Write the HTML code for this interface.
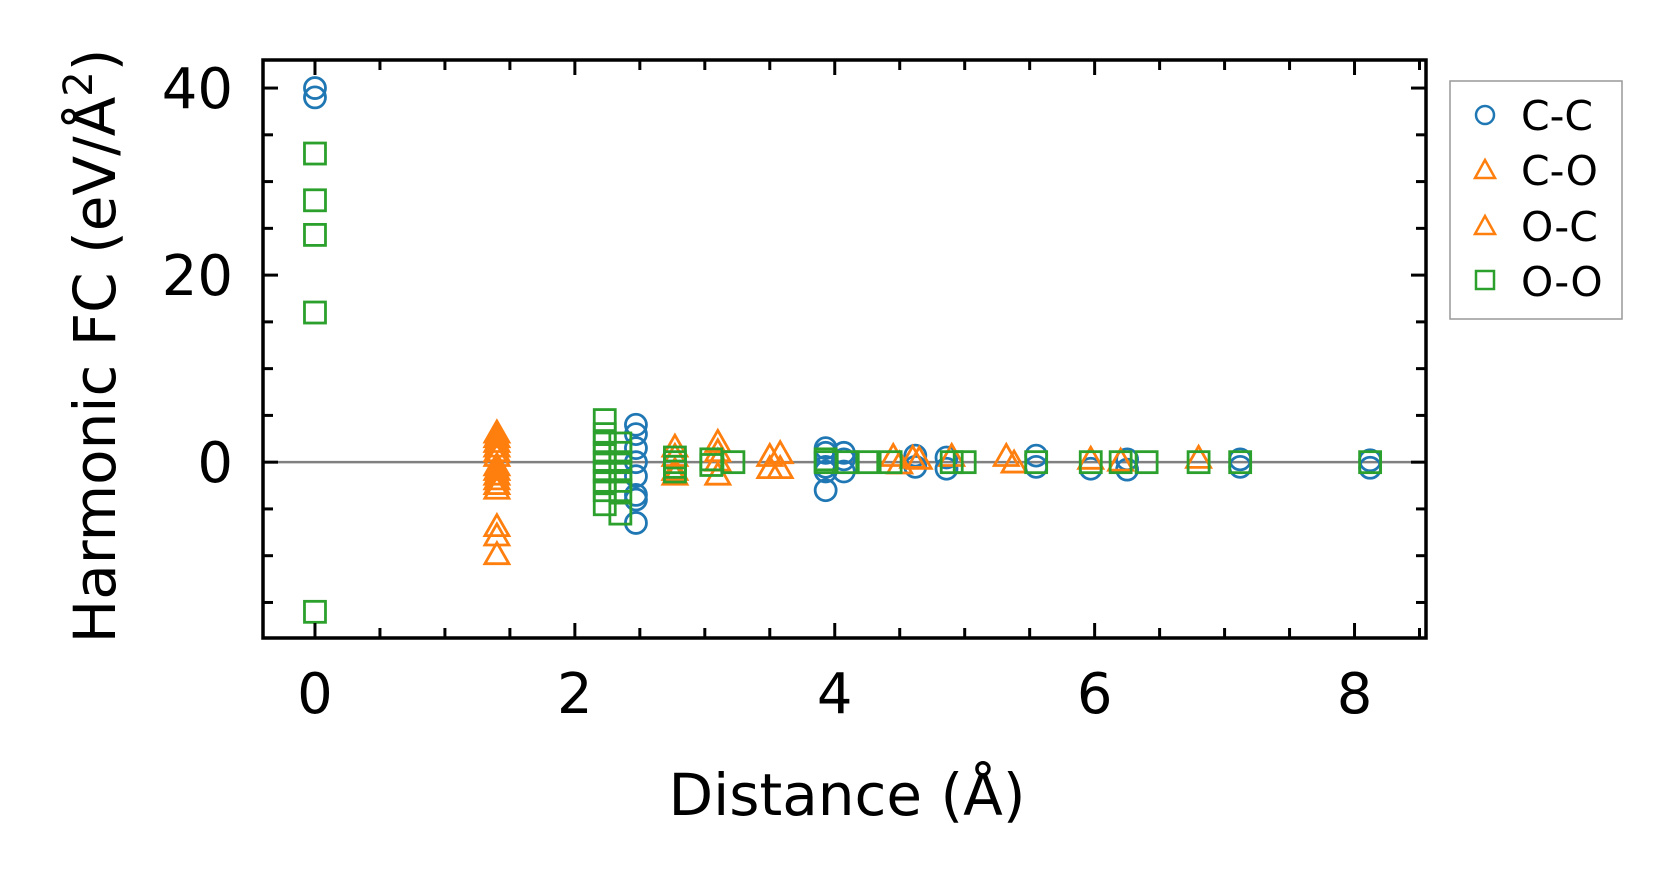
<!DOCTYPE html>
<html><head><meta charset="utf-8"><style>
html,body{margin:0;padding:0;background:#fff;}
svg{display:block;font-family:"DejaVu Sans","Liberation Sans",sans-serif;}
</style></head><body>
<svg id="chart" width="1680" height="883" viewBox="0 0 1680 883">
<g id="plot"></g>
<text x="847" y="815" font-size="58" text-anchor="middle">Distance (Å)</text>
<text transform="translate(115,346) rotate(-90)" font-size="58" text-anchor="middle">Harmonic FC (eV/Å<tspan dy="-23" font-size="40">2</tspan><tspan dy="23">)</tspan></text>
<g>
<rect x="1450" y="81" width="172" height="238" fill="#fff" stroke="#999" stroke-width="1.5"/>
<g><circle cx="1485" cy="115" r="9" fill="none" stroke="#1f77b4" stroke-width="2.5"/><text x="1521" y="130" font-size="41">C-C</text></g>
<g><polygon points="1485,160 1495,178 1475,178" fill="none" stroke="#ff7f0e" stroke-width="2.5"/><text x="1521" y="185" font-size="41">C-O</text></g>
<g><polygon points="1485,216 1495,234 1475,234" fill="none" stroke="#ff7f0e" stroke-width="2.5"/><text x="1521" y="241" font-size="41">O-C</text></g>
<g><rect x="1476" y="271" width="18" height="18" fill="none" stroke="#2ca02c" stroke-width="2.5"/><text x="1521" y="296" font-size="41">O-O</text></g>
</g>
</svg>
<script>
const ccX=[0,0,2.47,2.47,2.47,2.47,2.47,2.47,2.47,2.47,3.93,3.93,3.93,3.93,3.93,4.07,4.07,4.07,4.62,4.62,4.86,4.86,5.55,5.55,5.97,6.25,6.25,7.12,7.12,8.12,8.12];
const ccY=[40,39,4,3,1.5,0,-1.5,-3.5,-4,-6.5,1.5,1,-0.5,-1,-3,1,-1,0.3,0.7,-0.5,0.5,-0.7,0.7,-0.5,-0.7,0.3,-0.8,0.3,-0.5,0.2,-0.6];
const coX=[1.4,1.4,1.4,1.4,1.4,1.4,1.4,1.4,2.77,2.77,3.1,3.1,3.5,3.5,4.45,4.6,4.9,5.32,5.97,6.8];
const coY=[3,2,1,-0.5,-1.5,-2.5,-7,-10,1.5,-1,2,-1.5,0.5,-0.8,0.5,0.3,0.5,0.5,0.2,0.3];
const ocX=[1.4,1.4,1.4,1.4,1.4,1.4,1.4,2.77,2.77,3.1,3.1,3.58,3.58,4.5,4.65,5.38,6.2];
const ocY=[2.5,1.5,0.5,-1,-2,-3,-8,0.5,-1.5,1,0,0.8,-0.8,-0.3,0.2,-0.2,0];
const ooX=[0,0,0,0,0,2.23,2.23,2.23,2.23,2.23,2.23,2.23,2.23,2.23,2.35,2.35,2.35,2.35,2.35,2.35,2.35,2.77,2.77,2.77,2.77,3.05,3.05,3.22,3.93,3.93,4.1,4.25,4.43,4.9,5.0,5.55,5.97,6.2,6.4,6.8,7.12,8.12];
const ooY=[33,28,24.3,16,-16,4.5,3,2,1,0,-1,-2,-3,-4.5,2,1,0,-1,-2,-3,-5.5,0.5,0,-0.5,-1,0.3,-0.3,0,0,0.3,0,0,0,0,0,0,0,0,0,0,0,0];
const xTicks=[0,2,4,6,8];
const yTicks=[0,20,40];

const L=263,R=1426,T=60,B=638;
const xmin=-0.4,xmax=8.55,ymin=-18.8,ymax=43;
const sx=v=>L+(v-xmin)/(xmax-xmin)*(R-L);
const sy=v=>B-(v-ymin)/(ymax-ymin)*(B-T);
const NS='http://www.w3.org/2000/svg';
const g=document.getElementById('plot');
function mk(tag,attrs){const e=document.createElementNS(NS,tag);for(const k in attrs)e.setAttribute(k,attrs[k]);g.appendChild(e);return e;}

let zl=mk('line',{x1:L,x2:R,y1:sy(0),y2:sy(0),stroke:'#808080','stroke-width':2.5});



for(let i=0;i<ccX.length;i++){const e=mk('circle',{cx:sx(ccX[i]),cy:sy(ccY[i]),r:10.5,fill:'none',stroke:'#1f77b4','stroke-width':2.8});

}
function tri(x,y,name){const cx=sx(x),cy=sy(y);const e=mk('polygon',{points:`${cx},${cy-13} ${cx+12},${cy+8} ${cx-12},${cy+8}`,fill:'none',stroke:'#ff7f0e','stroke-width':2.8});

}
for(let i=0;i<coX.length;i++)tri(coX[i],coY[i],'point-c-o');
for(let i=0;i<ocX.length;i++)tri(ocX[i],ocY[i],'point-o-c');
for(let i=0;i<ooX.length;i++){const e=mk('rect',{x:sx(ooX[i])-10.5,y:sy(ooY[i])-10.5,width:21,height:21,fill:'none',stroke:'#2ca02c','stroke-width':2.8});

}

for(let v=-0.0;v<=8.5;v+=0.5){const x=sx(v);const major=Math.abs(v%2)<1e-6;const len=major?15:10;
mk('line',{x1:x,x2:x,y1:B,y2:B-len,stroke:'#000','stroke-width':3});
mk('line',{x1:x,x2:x,y1:T,y2:T+len,stroke:'#000','stroke-width':3});}
for(let v=-15;v<=40;v+=5){const y=sy(v);const major=v%20===0;const len=major?15:10;
mk('line',{x1:L,x2:L+len,y1:y,y2:y,stroke:'#000','stroke-width':3});
mk('line',{x1:R,x2:R-len,y1:y,y2:y,stroke:'#000','stroke-width':3});}
for(const v of xTicks){const t=mk('text',{x:sx(v),y:713,'font-size':56,'text-anchor':'middle'});t.textContent=v;

}
for(const v of yTicks){const t=mk('text',{x:233,y:sy(v)+20,'font-size':56,'text-anchor':'end'});t.textContent=v;

}
const fr=mk('rect',{x:L,y:T,width:R-L,height:B-T,fill:'none',stroke:'#000','stroke-width':3.5});


</script>
</body></html>
